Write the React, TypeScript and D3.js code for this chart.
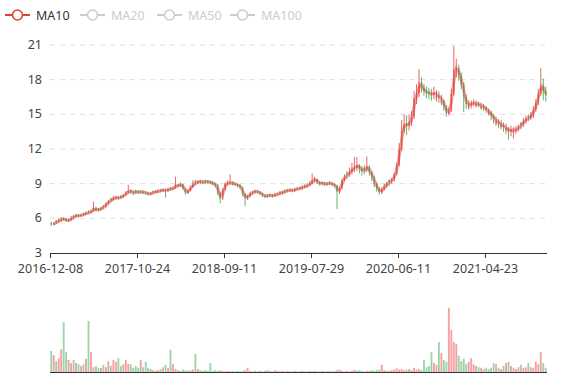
import React from 'react';
import * as d3 from 'd3';

// x-axis tick labels, one every `tickEvery` candles
const tickLabels = ['2016-12-08', '2017-10-24', '2018-09-11', '2019-07-29', '2020-06-11', '2021-04-23'];
const tickEvery = 35;

// price candles (each candle summarises a few trading sessions)
const opens = [
  5.6, 5.45, 5.8, 5.75, 5.8, 6.0, 5.95, 5.8, 5.85, 6.2,
  6.15, 6.3, 6.2, 6.45, 6.4, 6.55, 6.5, 6.6, 6.9, 6.85,
  6.75, 7.1, 7.0, 7.25, 7.7, 7.6, 7.75, 7.85, 7.95, 7.85,
  8.0, 8.2, 8.45, 8.3, 8.4, 8.3, 8.25, 8.3, 8.25, 8.2,
  8.1, 8.35, 8.25, 8.3, 8.5, 8.4, 8.45, 8.4, 8.65, 8.55,
  8.6, 8.9, 8.8, 8.95, 8.6, 8.2, 8.4, 8.7, 9.2, 9.1,
  9.15, 9.2, 9.3, 9.2, 9.15, 9.1, 9.0, 8.9, 8.2, 7.7,
  8.5, 9.0, 9.05, 9.1, 9.0, 8.95, 8.85, 8.7, 8.1, 7.75,
  7.9, 8.35, 8.25, 8.35, 8.3, 8.15, 8.0, 7.9, 8.1, 8.0,
  7.95, 8.05, 8.3, 8.2, 8.25, 8.5, 8.4, 8.45, 8.4, 8.65,
  8.55, 8.6, 8.85, 8.75, 8.85, 9.0, 9.3, 9.4, 9.1, 9.15,
  9.05, 8.95, 9.15, 9.05, 8.95, 8.85, 8.3, 8.6, 9.3, 9.9,
  9.8, 10.0, 10.3, 10.4, 10.6, 10.3, 10.4, 10.2, 10.5, 10.0,
  9.6, 9.0, 8.6, 8.25, 8.5, 8.8, 9.35, 9.2, 9.3, 9.8,
  10.6, 12.0, 13.6, 14.2, 14.0, 14.3, 14.8, 16.4, 16.8, 17.8,
  17.3, 17.0, 16.9, 16.8, 16.7, 16.4, 16.6, 16.0, 16.2, 15.7,
  15.1, 15.3, 16.8, 18.9, 19.0, 18.4, 17.6, 16.5, 15.6, 15.8,
  15.95, 15.7, 15.9, 15.5, 15.7, 15.6, 15.0, 15.2, 14.9, 14.2,
  14.4, 13.9, 14.1, 13.6, 13.8, 13.5, 13.4, 13.6, 13.7, 14.3,
  14.1, 14.4, 14.85, 14.7, 14.9, 15.4, 16.0, 16.8, 17.6, 17.0,
];
const closes = [
  5.45, 5.55, 5.7, 5.8, 5.9, 5.95, 5.8, 5.85, 6.0, 6.15,
  6.25, 6.2, 6.3, 6.35, 6.45, 6.5, 6.6, 6.9, 6.7, 6.75,
  6.85, 7.0, 7.25, 7.45, 7.6, 7.75, 7.8, 7.75, 7.85, 8.0,
  8.2, 8.4, 8.3, 8.2, 8.3, 8.25, 8.3, 8.25, 8.2, 8.1,
  8.15, 8.25, 8.3, 8.35, 8.4, 8.45, 8.4, 8.5, 8.55, 8.6,
  8.9, 8.8, 8.95, 8.6, 8.2, 8.4, 8.7, 8.95, 9.1, 9.15,
  9.2, 9.1, 9.2, 9.15, 9.1, 9.0, 8.9, 8.2, 7.7, 8.5,
  9.0, 9.05, 9.1, 9.0, 8.95, 8.85, 8.7, 8.1, 7.75, 7.9,
  8.15, 8.25, 8.35, 8.3, 8.15, 8.0, 7.9, 7.95, 8.0, 7.95,
  8.05, 8.1, 8.2, 8.25, 8.35, 8.4, 8.45, 8.4, 8.5, 8.55,
  8.6, 8.7, 8.75, 8.85, 9.0, 9.3, 9.4, 9.1, 9.0, 9.05,
  8.95, 9.0, 9.05, 8.95, 8.85, 8.3, 8.6, 9.3, 9.6, 9.8,
  10.0, 10.3, 10.4, 10.6, 10.3, 10.1, 10.2, 10.5, 10.0, 9.6,
  9.0, 8.6, 8.25, 8.5, 8.8, 9.0, 9.2, 9.3, 9.8, 10.6,
  12.0, 13.6, 14.2, 14.0, 14.3, 14.8, 16.4, 16.8, 17.8, 17.3,
  17.0, 16.9, 16.8, 16.7, 16.9, 16.6, 16.5, 16.2, 15.7, 15.1,
  15.3, 16.8, 18.9, 19.0, 18.4, 17.6, 16.5, 15.9, 15.8, 15.95,
  16.0, 15.9, 15.85, 15.7, 15.6, 15.4, 15.2, 14.9, 14.6, 14.4,
  14.2, 14.1, 13.9, 13.8, 13.5, 13.7, 13.6, 13.7, 13.9, 14.1,
  14.4, 14.6, 14.7, 14.9, 15.4, 16.0, 16.8, 17.6, 17.0, 16.6,
];
const highs = [
  5.7, 5.65, 5.85, 6.05, 6.1, 6.1, 6.0, 5.95, 6.2, 6.3,
  6.4, 6.35, 6.4, 6.5, 6.6, 6.7, 6.75, 7.45, 7.0, 6.9,
  7.0, 7.15, 7.4, 7.6, 7.8, 7.95, 7.95, 7.9, 8.0, 8.1,
  8.35, 8.9, 8.5, 8.4, 8.5, 8.45, 8.45, 8.4, 8.35, 8.25,
  8.3, 8.4, 8.45, 8.5, 8.55, 8.6, 8.55, 8.65, 8.7, 8.75,
  9.6, 9.0, 9.1, 9.0, 8.65, 8.5, 8.85, 9.3, 9.35, 9.3,
  9.35, 9.3, 9.35, 9.3, 9.25, 9.2, 9.05, 8.95, 8.3, 8.6,
  9.1, 9.3, 9.8, 9.2, 9.1, 9.0, 8.95, 8.75, 8.2, 8.05,
  8.3, 8.4, 8.5, 8.45, 8.35, 8.2, 8.05, 8.1, 8.15, 8.1,
  8.2, 8.25, 8.35, 8.4, 8.5, 8.55, 8.6, 8.55, 8.65, 8.7,
  8.75, 8.85, 8.95, 9.05, 9.2, 9.9, 9.6, 9.45, 9.2, 9.2,
  9.15, 9.15, 9.2, 9.1, 9.0, 8.9, 8.75, 9.45, 9.8, 10.1,
  10.4, 10.8, 11.3, 11.3, 10.7, 10.5, 10.6, 11.35, 10.6, 10.1,
  9.7, 9.1, 8.7, 8.7, 9.0, 9.15, 9.35, 9.5, 9.95, 10.8,
  12.5, 14.5, 15.0, 14.9, 15.0, 15.3, 17.0, 17.6, 18.9, 18.2,
  17.6, 17.4, 17.3, 17.2, 17.4, 17.1, 17.0, 16.7, 16.3, 15.8,
  15.6, 17.2, 20.9, 19.8, 19.3, 18.6, 17.8, 16.7, 16.2, 16.2,
  16.3, 16.2, 16.1, 16.0, 15.9, 15.7, 15.5, 15.3, 15.0, 14.8,
  14.6, 14.5, 14.3, 14.2, 13.9, 14.0, 13.9, 14.0, 14.1, 14.3,
  14.7, 14.9, 15.0, 15.2, 15.7, 16.3, 17.2, 19.0, 18.1, 17.4,
];
const lows = [
  5.35, 5.4, 5.5, 5.65, 5.75, 5.85, 5.7, 5.7, 5.8, 5.95,
  6.1, 6.1, 6.15, 6.2, 6.3, 6.4, 6.45, 6.55, 6.6, 6.6,
  6.7, 6.8, 6.95, 7.2, 7.4, 7.55, 7.65, 7.6, 7.7, 7.8,
  7.95, 8.1, 8.1, 8.0, 8.1, 8.1, 8.15, 8.1, 8.05, 7.95,
  8.0, 8.1, 8.2, 8.2, 8.25, 8.3, 7.8, 8.3, 8.4, 8.45,
  8.55, 8.65, 8.7, 8.5, 8.05, 8.1, 8.35, 8.65, 8.85, 8.95,
  9.0, 8.95, 9.0, 9.0, 8.95, 8.85, 8.7, 8.0, 7.3, 7.6,
  8.4, 8.85, 8.9, 8.85, 8.8, 8.7, 8.55, 7.9, 7.07, 7.6,
  7.85, 8.05, 8.15, 8.15, 8.0, 7.85, 7.75, 7.8, 7.85, 7.8,
  7.85, 7.95, 8.0, 8.05, 8.15, 8.25, 8.3, 8.25, 8.3, 8.4,
  8.45, 8.5, 8.6, 8.65, 8.8, 8.95, 9.1, 8.95, 8.85, 8.9,
  8.8, 8.85, 8.9, 8.8, 8.7, 6.8, 8.1, 8.5, 9.2, 9.4,
  9.6, 9.8, 10.0, 10.1, 9.9, 9.7, 9.8, 10.0, 9.7, 9.2,
  8.7, 8.3, 8.05, 8.1, 8.4, 8.6, 8.8, 9.0, 9.2, 9.7,
  10.5, 11.8, 13.4, 13.2, 13.6, 14.0, 14.6, 15.9, 16.5, 16.9,
  16.6, 16.4, 16.3, 16.2, 16.3, 16.1, 16.0, 15.8, 15.3, 14.8,
  14.9, 15.2, 16.6, 18.2, 17.9, 17.2, 15.2, 15.5, 15.4, 15.5,
  15.7, 15.6, 15.6, 15.4, 15.3, 15.1, 14.9, 14.5, 14.2, 14.0,
  13.8, 13.7, 13.5, 13.3, 12.8, 13.1, 12.9, 13.3, 13.5, 13.7,
  13.9, 14.2, 14.4, 14.5, 14.7, 15.2, 15.8, 16.6, 16.2, 16.1,
];
const volumes = [
  35, 28, 18, 23, 38, 83, 33, 20, 15, 20,
  15, 13, 10, 13, 22, 85, 33, 8, 10, 7,
  7, 12, 8, 18, 10, 20, 17, 23, 10, 13,
  20, 13, 13, 7, 10, 7, 20, 8, 17, 7,
  5, 3, 2, 3, 5, 8, 12, 7, 37, 13,
  5, 3, 2, 4, 3, 2, 3, 4, 30, 5,
  3, 2, 3, 2, 15, 2, 3, 2, 3, 2,
  1, 2, 1, 2, 1, 2, 1, 2, 3, 7,
  2, 1, 2, 1, 2, 1, 2, 3, 2, 1,
  3, 2, 1, 2, 1, 2, 1, 1, 2, 1,
  1, 2, 1, 1, 2, 1, 2, 1, 1, 2,
  1, 1, 2, 1, 2, 3, 4, 2, 1, 2,
  1, 2, 4, 2, 3, 2, 1, 2, 2, 3,
  2, 3, 4, 12, 3, 2, 2, 3, 4, 6,
  4, 5, 3, 4, 5, 3, 7, 4, 5, 3,
  20, 8, 10, 33, 15, 12, 50, 32, 20, 17,
  107, 70, 50, 47, 27, 18, 22, 13, 17, 23,
  13, 10, 8, 7, 5, 7, 5, 7, 15, 13,
  7, 5, 10, 15, 17, 10, 7, 5, 8, 12,
  7, 8, 15, 8, 7, 17, 13, 33, 15, 7,
];

const legendNames = ['MA10', 'MA20', 'MA50', 'MA100'];
const priceTicks = [3, 6, 9, 12, 15, 18, 21];
// each candle covers ~6 sessions, so a 2-candle window ≈ 10-12 sessions
const maWindow = 2;

const UP = '#eb5454';
const DOWN = '#47b262';
const MA_COLOR = '#d9443a';
const FONT = "'Noto Sans', 'Open Sans', sans-serif";

export default function App() {
  const W = 577, H = 380;
  const left = 50, right = 547, top = 45, bottom = 253;
  const vTop = 300, vBottom = 372;
  const n = closes.length;

  const x = d3.scaleBand<number>().domain(d3.range(n)).range([left, right]);
  const bw = x.bandwidth();
  const y = d3.scaleLinear().domain([3, 21]).range([bottom, top]);
  const yv = d3.scaleLinear().domain([0, 120]).range([vBottom, vTop]);

  const ma: [number, number | null][] = closes.map((c, i) =>
    [i, i < maWindow - 1 ? null : (d3.mean(closes.slice(i - maWindow + 1, i + 1)) as number)]
  );
  const maLine = d3
    .line<[number, number | null]>()
    .defined((d) => d[1] != null)
    .x((d) => (x(d[0]) as number) + bw / 2)
    .y((d) => y(d[1] as number))
    .curve(d3.curveLinear);

  const legendX = [5, 80, 157, 230];

  return (
    <svg
      width={W}
      height={H}
      style={{ position: 'absolute', left: 0, top: 0, display: 'block', background: '#fff' }}
      fontFamily={FONT}
    >
      {/* legend */}
      {legendNames.map((name, k) => {
        const active = k === 0;
        const col = active ? MA_COLOR : '#ccc';
        const lx = legendX[k];
        return (
          <g key={name}>
            <line x1={lx} x2={lx + 25} y1={15} y2={15} stroke={col} strokeWidth={2} />
            <circle cx={lx + 12.5} cy={15} r={5} fill="#fff" stroke={col} strokeWidth={1.6} />
            <text x={lx + 31} y={19.5} fontSize={12.5} fill={active ? '#333' : '#ccc'}>
              {name}
            </text>
          </g>
        );
      })}

      {/* grid + y labels */}
      {priceTicks.map((t) => (
        <g key={t}>
          {t !== 3 && (
            <line x1={left} x2={right} y1={y(t)} y2={y(t)} stroke="#e0e0e0" strokeDasharray="5,5" />
          )}
          <text x={42} y={y(t) + 4} fontSize={12.5} fill="#444" textAnchor="end">
            {t}
          </text>
        </g>
      ))}

      {/* candles */}
      {closes.map((c, i) => {
        const o = opens[i];
        const up = c >= o;
        const col = up ? UP : DOWN;
        const cx = (x(i) as number) + bw / 2;
        const y1 = y(Math.max(o, c));
        const y2 = y(Math.min(o, c));
        const w = bw * 0.62;
        return (
          <g key={i} opacity={0.9}>
            <line x1={cx} x2={cx} y1={y(highs[i])} y2={y(lows[i])} stroke={col} strokeWidth={1} />
            <rect x={cx - w / 2} y={y1} width={w} height={Math.max(1, y2 - y1)} fill={col} />
          </g>
        );
      })}

      {/* MA line */}
      <path d={maLine(ma) || ''} fill="none" stroke={MA_COLOR} strokeOpacity={0.5} strokeWidth={3} />

      {/* x axis */}
      <line x1={left} x2={right} y1={bottom + 0.5} y2={bottom + 0.5} stroke="#333" />
      {tickLabels.map((lab, k) => {
        const tx = Math.round(x(k * tickEvery) as number) + 0.5;
        return (
          <g key={lab}>
            <line x1={tx} x2={tx} y1={bottom} y2={bottom + 5} stroke="#333" />
            <text x={tx} y={273} fontSize={12.5} fill="#444" textAnchor="middle">
              {lab}
            </text>
          </g>
        );
      })}

      {/* volume bars */}
      {volumes.map((v, i) => {
        const up = closes[i] >= opens[i];
        const w = bw * 0.75;
        const cx = (x(i) as number) + bw / 2;
        return (
          <rect
            key={i}
            x={cx - w / 2}
            y={yv(v)}
            width={w}
            height={vBottom - yv(v)}
            fill={up ? UP : DOWN}
            fillOpacity={0.55}
          />
        );
      })}
      <line x1={left} x2={right} y1={vBottom + 0.5} y2={vBottom + 0.5} stroke="#333" />
    </svg>
  );
}
